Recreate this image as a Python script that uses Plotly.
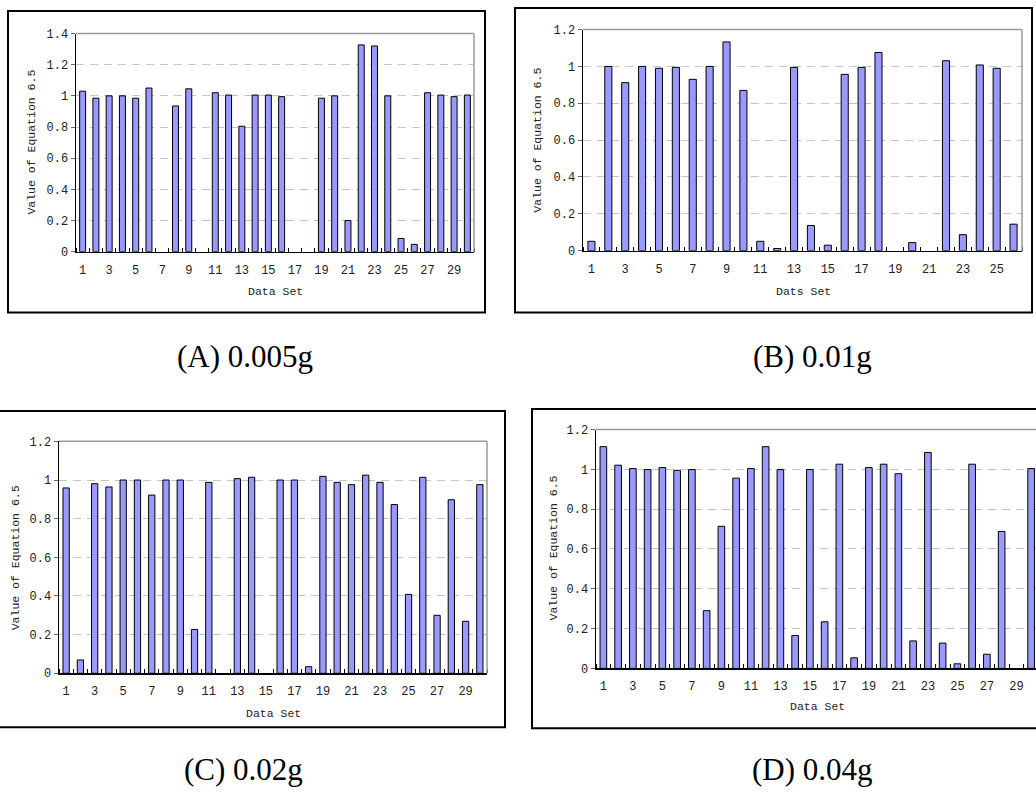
import plotly.graph_objects as go

# ---------------- data ----------------
sets_a = list(range(1, 31))
vals_a = [1.03, 0.985, 1.0, 1.0, 0.985, 1.05, None, 0.935, 1.045, None,
          1.02, 1.005, 0.805, 1.005, 1.005, 0.995, None, None, 0.985, 1.0,
          0.2, 1.327, 1.32, 1.0, 0.085, 0.047, 1.02, 1.005, 0.995, 1.005]

sets_b = list(range(1, 27))
vals_b = [0.051, 1.0, 0.912, 1.0, 0.99, 0.995, 0.93, 1.0, 1.133, 0.87,
          0.051, 0.012, 0.995, 0.137, 0.03, 0.957, 0.995, 1.076, None, 0.044,
          None, 1.031, 0.087, 1.008, 0.99, 0.144]

sets_c = list(range(1, 31))
vals_c = [0.959, 0.069, 0.981, 0.964, 1.0, 1.0, 0.922, 1.0, 1.0, 0.227,
          0.988, None, 1.007, 1.014, None, 1.0, 1.0, 0.034, 1.019, 0.988,
          0.976, 1.025, 0.988, 0.873, 0.408, 1.014, 0.3, 0.898, 0.269, 0.976]

sets_d = list(range(1, 31))
vals_d = [1.114, 1.021, 1.004, 0.999, 1.009, 0.995, 0.999, 0.29, 0.714, 0.956,
          1.004, 1.114, 0.999, 0.165, 0.999, 0.234, 1.026, 0.053, 1.009, 1.026,
          0.978, 0.138, 1.085, 0.127, 0.023, 1.026, 0.071, 0.688, None, 1.004]

ticks_a = list(range(1, 31, 2))
ticks_b = list(range(1, 27, 2))
ticks_c = list(range(1, 31, 2))
ticks_d = list(range(1, 31, 2))

y_title = "Value of Equation 6.5"
x_titles = ["Data Set", "Dats Set", "Data Set", "Data Set"]
captions = ["(A) 0.005g", "(B) 0.01g", "(C) 0.02g", "(D) 0.04g"]

# ---------------- layout helpers ----------------
W, H = 1036, 812
def px(x):
    return x / W
def py(y):
    return 1 - y / H

BAR = "#9999FF"
MONO = "Liberation Mono, Courier New, monospace"

panels = [
    dict(sets=sets_a, vals=vals_a, ticks=ticks_a, area=(76, 474, 28, 250), ymax=1.4, width=0.45),
    dict(sets=sets_b, vals=vals_b, ticks=ticks_b, area=(583, 1022, 24, 249), ymax=1.2, width=0.42),
    dict(sets=sets_c, vals=vals_c, ticks=ticks_c, area=(59, 487, 443, 679), ymax=1.2, width=0.44),
    dict(sets=sets_d, vals=vals_d, ticks=ticks_d, area=(596, 1036, 431, 674), ymax=1.2, width=0.45,
         xmax=0.5 + (1036 - 596) / 14.75),
]

fig = go.Figure()
layout = dict(
    width=W, height=H,
    margin=dict(l=0, r=0, t=0, b=0),
    paper_bgcolor="white", plot_bgcolor="white",
    showlegend=False,
    bargap=0,
)
shapes = []
annotations = []

for i, p in enumerate(panels):
    n = i + 1
    xa = "xaxis" if n == 1 else f"xaxis{n}"
    ya = "yaxis" if n == 1 else f"yaxis{n}"
    xr = "x" if n == 1 else f"x{n}"
    yr = "y" if n == 1 else f"y{n}"
    x0, x1, y0, y1 = p["area"]
    N = len(p["sets"])
    xmax = p.get("xmax", N + 0.5)

    fig.add_trace(go.Bar(
        x=p["sets"], y=p["vals"], width=p["width"],
        marker=dict(color=BAR, line=dict(color="black", width=1)),
        xaxis=xr, yaxis=yr, hoverinfo="x+y",
    ))

    layout[xa] = dict(
        domain=[max(0, px(x0)), min(1, px(x1))], range=[0.5, xmax], anchor=yr,
        tickmode="array", tickvals=p["ticks"], ticktext=[str(t) for t in p["ticks"]],
        ticks="", showgrid=False, zeroline=False,
        showline=True, linecolor="black", linewidth=1.5,
        tickfont=dict(family=MONO, size=12, color="#222222"),
        ticklabelstandoff=6,
        minor=dict(tickmode="array", tickvals=[k + 0.5 for k in range(0, N + 1)],
                   ticks="inside", ticklen=4, tickcolor="black", tickwidth=1, showgrid=False),
        fixedrange=True,
    )
    layout[ya] = dict(
        domain=[py(y1), py(y0)], range=[0, p["ymax"]], anchor=xr,
        dtick=0.2, tick0=0, ticks="outside", ticklen=4, tickcolor="#666666",
        showgrid=True, gridcolor="#c4c4c4", griddash="8px,6px", gridwidth=1,
        zeroline=False, showline=True, linecolor="black", linewidth=1.5,
        tickfont=dict(family=MONO, size=12, color="#222222"),
        fixedrange=True,
    )

    shapes.append(dict(type="line", xref=f"{xr} domain", yref=f"{yr} domain",
                       x0=0, x1=1, y0=1, y1=1, line=dict(color="#9a9a9a", width=1.5)))
    if n != 4:
        shapes.append(dict(type="line", xref=f"{xr} domain", yref=f"{yr} domain",
                           x0=1, x1=1, y0=0, y1=1, line=dict(color="#9a9a9a", width=1.5)))

# outer panel borders (window pixels)
borders = [(8, 485, 5, 312), (515, 1032, 2, 312), (-5, 505, 412, 734), (532, 1045, 410, 735)]
for (bx0, bx1, by0, by1) in borders:
    shapes.append(dict(type="rect", xref="paper", yref="paper",
                       x0=px(bx0), x1=px(bx1), y0=py(by1), y1=py(by0),
                       line=dict(color="black", width=2), fillcolor="rgba(0,0,0,0)", layer="above"))

ytitle_pos = [(32, 139), (538, 137), (15, 562), (553, 552)]
xtitle_pos = [(275, 290), (803, 290), (273, 720), (817, 713)]
for i in range(4):
    yx, yy = ytitle_pos[i]
    annotations.append(dict(text=y_title, x=px(yx), y=py(yy), xref="paper", yref="paper",
                            showarrow=False, textangle=-90, xanchor="center", yanchor="middle",
                            font=dict(family=MONO, size=11.5, color="#222222")))
    xx, xy = xtitle_pos[i]
    annotations.append(dict(text=x_titles[i], x=px(xx), y=py(xy), xref="paper", yref="paper",
                            showarrow=False, xanchor="center", yanchor="middle",
                            font=dict(family=MONO, size=11.5, color="#222222")))

cap_pos = [(245, 357), (812, 357), (243, 777), (812, 777)]
for i in range(4):
    cx, cy = cap_pos[i]
    annotations.append(dict(text=captions[i], x=px(cx), y=py(cy), xref="paper", yref="paper",
                            showarrow=False, xanchor="center", yanchor="middle",
                            font=dict(family="Liberation Serif, Times New Roman, serif", size=31, color="black")))

layout["shapes"] = shapes
layout["annotations"] = annotations
fig.update_layout(**layout)

# place the figure at the window corner (remove default page margin / scrollbars)
fig.write_html(
    "out.html",
    config={"displayModeBar": False, "staticPlot": True},
    post_script="document.body.style.margin='0';document.documentElement.style.overflow='hidden';",
)
